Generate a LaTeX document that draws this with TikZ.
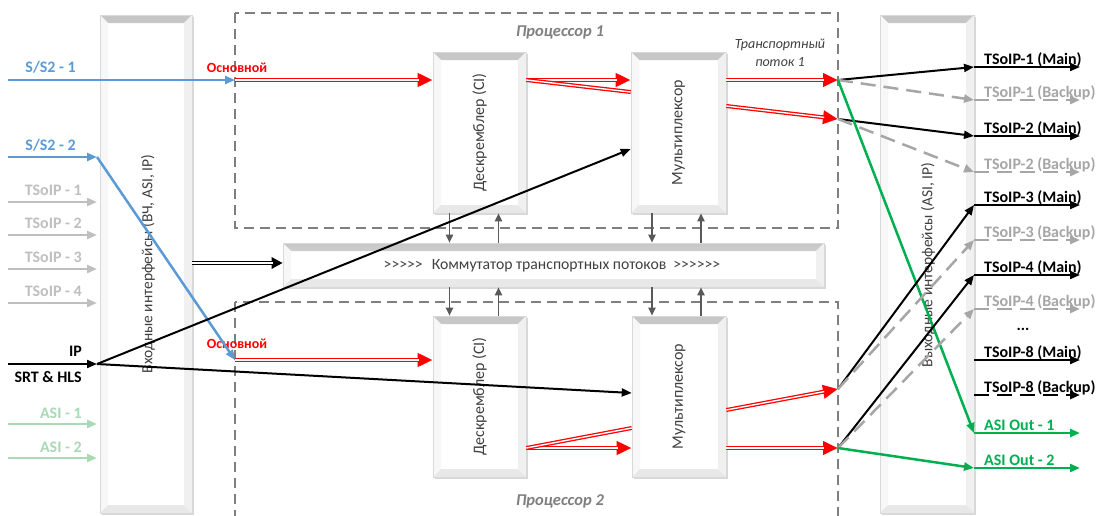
\documentclass[tikz,border=0pt]{standalone}
\usepackage{fontspec}
\setmainfont{Carlito}
\newfontfamily\nolig{Carlito}[Ligatures=TeXOff]
\usetikzlibrary{arrows.meta,shadows,calc}
\definecolor{cblue}{HTML}{5B9BD5}
\definecolor{cred}{HTML}{FF0000}
\definecolor{cgreen}{HTML}{00B050}
\definecolor{lgreen}{HTML}{A9D9B6}
\definecolor{lgray}{HTML}{BFBFBF}
\definecolor{mgray}{HTML}{A6A6A6}
\definecolor{dgray}{HTML}{595959}
\definecolor{dashc}{HTML}{7F7F7F}
\definecolor{txtc}{HTML}{404040}
\begin{document}
\begin{tikzpicture}[x=1pt,y=-1pt,
  bev/.style={fill=white, draw=gray!30, line width=0.6pt, inner sep=0pt,
    drop shadow={shadow xshift=1.5pt, shadow yshift=-1.5pt, opacity=0.3, fill=gray},
    path picture={
      \fill[top color=gray!45, bottom color=gray!8]
        (path picture bounding box.north west) -- (path picture bounding box.north east)
        -- ([xshift=-8pt,yshift=-8pt]path picture bounding box.north east)
        -- ([xshift=8pt,yshift=-8pt]path picture bounding box.north west) -- cycle;
      \fill[gray!6]
        (path picture bounding box.north west) -- ([xshift=8pt,yshift=-8pt]path picture bounding box.north west)
        -- ([xshift=8pt,yshift=8pt]path picture bounding box.south west) -- (path picture bounding box.south west) -- cycle;
      \fill[gray!12]
        (path picture bounding box.north east) -- ([xshift=-8pt,yshift=-8pt]path picture bounding box.north east)
        -- ([xshift=-8pt,yshift=8pt]path picture bounding box.south east) -- (path picture bounding box.south east) -- cycle;
      \fill[gray!18]
        (path picture bounding box.south west) -- ([xshift=8pt,yshift=8pt]path picture bounding box.south west)
        -- ([xshift=-8pt,yshift=8pt]path picture bounding box.south east) -- (path picture bounding box.south east) -- cycle;
    }},
  proc/.style={draw=dashc, line width=1.5pt, dash pattern=on 10pt off 6pt},
  tip/.style={-{Triangle[length=10pt,width=8pt]}},
  blu/.style={draw=cblue, line width=2.5pt, tip},
  gin/.style={draw=lgray, line width=2.5pt, tip},
  ain/.style={draw=lgreen, line width=2.5pt, tip},
  blk/.style={draw=black, line width=2pt, tip},
  grn/.style={draw=cgreen, line width=2.5pt, tip},
  bkp/.style={draw=mgray, line width=2.5pt, dash pattern=on 15pt off 8pt, tip},
  bkpb/.style={draw=black, line width=2.5pt, dash pattern=on 15pt off 8pt, tip},
  gar/.style={draw=dgray, line width=1.8pt, -{Triangle[length=8pt,width=7pt]}},
  redd/.style={draw=cred, line width=4pt, -{Triangle[length=15pt,width=13pt]},
    postaction={draw=white, line width=1.4pt, shorten >=14pt, arrows=-}},
  redn/.style={draw=cred, line width=4pt, postaction={draw=white, line width=1.4pt}},
  dbl/.style={draw=black, line width=4pt, -{Triangle[length=11pt,width=11pt]},
    postaction={draw=white, line width=1.4pt, shorten >=10pt, arrows=-}},
  lbl/.style={font=\fontsize{16}{18}\selectfont\bfseries, inner sep=0pt},
  olbl/.style={font=\fontsize{16}{18}\selectfont\bfseries, inner sep=0pt, anchor=base west},
  btxt/.style={font=\fontsize{16}{18}\selectfont, text=txtc, inner sep=0pt},
  ptxt/.style={font=\fontsize{15.5}{18}\selectfont, text=txtc, inner sep=0pt},
]
\useasboundingbox (0,0) rectangle (1101,515);
\clip (0,0) rectangle (1101,515);
\fill[white] (0,0) rectangle (1101,515);

% panels
\node[bev, minimum width=92pt, minimum height=498pt] (inp) at (146,264) {};
\node[bev, minimum width=94pt, minimum height=498pt] (outp) at (927,264) {};
\node[ptxt, rotate=90] (intxt) at (148,264) {Входные интерфейсы (ВЧ, ASI, IP)};
\node[ptxt, rotate=90] (outtxt) at (928,265) {Выходные интерфейсы (ASI, IP)};

% processors
\draw[proc] (235,13) rectangle (838,228);
\draw[proc] (235,302) rectangle (838,540);
\node[font=\fontsize{16.5}{19}\selectfont\bfseries\itshape, text=dashc, anchor=base] (p1lbl) at (560,36) {Процессор 1};
\node[font=\fontsize{16.5}{19}\selectfont\bfseries\itshape, text=dashc, anchor=base] (p2lbl) at (560,505) {Процессор 2};

% boxes
\node[bev, minimum width=93pt, minimum height=161pt] (desc1) at (479.5,132.5) {};
\node[bev, minimum width=95pt, minimum height=161pt] (mux1) at (678.5,132.5) {};
\node[bev, minimum width=93pt, minimum height=161pt] (desc2) at (479.5,396.5) {};
\node[bev, minimum width=94pt, minimum height=161pt] (mux2) at (679,396.5) {};
\node[bev, minimum width=541pt, minimum height=44pt] (comm) at (553.5,265) {};
\node[btxt, rotate=90] at (desc1) {Дескремблер (CI)};
\node[btxt, rotate=90] at (mux1) {Мультиплексор};
\node[btxt, rotate=90] at (desc2) {Дескремблер (CI)};
\node[btxt, rotate=90] at (mux2) {Мультиплексор};
\node[btxt, font=\fontsize{15.7}{18}\selectfont\nolig] at (552,266) {>>>>>\hspace{9pt}Коммутатор транспортных потоков\hspace{7pt}>>>>>>};

% vertical gray arrows
\draw[gar] ([xshift=-30pt]desc1.south) -- ([xshift=-30pt]desc1.south |- comm.north);
\draw[gar] ([xshift=19pt]desc1.south |- comm.north) -- ([xshift=19pt]desc1.south);
\draw[gar] ([xshift=-26.5pt]mux1.south) -- ([xshift=-26.5pt]mux1.south |- comm.north);
\draw[gar] ([xshift=22.5pt]mux1.south |- comm.north) -- ([xshift=22.5pt]mux1.south);
\draw[gar] ([xshift=-30pt]desc2.north |- comm.south) -- ([xshift=-30pt]desc2.north);
\draw[gar] ([xshift=19pt]desc2.north) -- ([xshift=19pt]desc2.north |- comm.south);
\draw[gar] ([xshift=-27pt]mux2.north |- comm.south) -- ([xshift=-27pt]mux2.north);
\draw[gar] ([xshift=22pt]mux2.north) -- ([xshift=22pt]mux2.north |- comm.south);

% coordinates
\coordinate (a1) at (235,80);
\coordinate (a2) at (235,360);
\coordinate (P1) at (838,80);
\coordinate (P2) at (838,119);
\coordinate (P3) at (838,389);
\coordinate (P4) at (838,448);

% red labels
\node[lbl, font=\fontsize{14}{16}\selectfont\bfseries, text=cred, anchor=base] (os1) at (237,72) {Основной};
\node[lbl, font=\fontsize{14}{16}\selectfont\bfseries, text=cred, anchor=base] (os2) at (237,348) {Основной};
\node[font=\fontsize{14}{16}\selectfont\itshape, text=txtc, anchor=base, inner sep=0pt] (tp1) at (780,48) {Транспортный};
\node[font=\fontsize{14}{16}\selectfont\itshape, text=txtc, anchor=base, inner sep=0pt] (tp2) at (780,66) {поток 1};

% red double streams
\draw[redd] (a1) -- (desc1.west |- a1);
\draw[redd] (desc1.east |- a1) -- (mux1.west |- a1);
\draw[redn] (desc1.east |- a1) -- (mux1.west |- 0,92);
\draw[redd] (mux1.east |- a1) -- (P1);
\draw[redd] (mux1.east |- 0,106) -- (P2);
\draw[redd] (a2) -- (desc2.west |- a2);
\draw[redd] (desc2.east |- P4) -- (mux2.west |- P4);
\draw[redn] (desc2.east |- P4) -- (mux2.west |- 0,428);
\draw[redd] (mux2.east |- 0,410) -- (P3);
\draw[redd] (mux2.east |- P4) -- (P4);

% inputs
\coordinate (s1) at (8,80);
\coordinate (s2) at (8,157);
\coordinate (j2) at (97,157);
\draw[blu] (s1) -- (a1);
\draw[blu] (s2) -- (j2);
\draw[blu] (j2) -- (a2);
\node[lbl, text=cblue, anchor=base east] (ls1) at (76,72) {S/S2 - 1};
\node[lbl, text=cblue, anchor=base east] (ls2) at (76,150) {S/S2 - 2};
\foreach \k/\y in {1/202,2/235,3/269,4/303}{
  \coordinate (t\k s) at (8,\y);
  \coordinate (t\k e) at (97,\y);
  \draw[gin] (t\k s) -- (t\k e);
  \node[lbl, text=lgray, anchor=base east] at (82,{\y-7}) {TSoIP - \k};
}
\foreach \k/\y in {1/424,2/458}{
  \coordinate (as\k s) at (8,\y);
  \coordinate (as\k e) at (97,\y);
  \draw[ain] (as\k s) -- (as\k e);
  \node[lbl, text=lgreen, anchor=base east] at (82,{\y-6}) {ASI - \k};
}
\coordinate (ips) at (8,364);
\coordinate (ipj) at (97,364);
\draw[blk] (ips) -- (ipj);
\node[lbl, anchor=base east] (lip) at (82,356) {IP};
\node[lbl, anchor=base east] (lsrt) at (82,382) {SRT \& HLS};
\draw[blk] (ipj) -- (mux1.west |- 0,149);
\draw[blk] (ipj) -- (mux2.west |- 0,393);
\draw[dbl] (inp.east |- 0,263) -- (comm.west |- 0,263);

% outputs
\foreach \nm/\y/\st/\tc/\tx in {
  o1m/67/blk/black/{TSoIP-1 (Main)},
  o1b/100/bkp/mgray/{TSoIP-1 (Backup)},
  o2m/136/blk/black/{TSoIP-2 (Main)},
  o2b/172/bkp/mgray/{TSoIP-2 (Backup)},
  o3m/205/blk/black/{TSoIP-3 (Main)},
  o3b/240/bkp/mgray/{TSoIP-3 (Backup)},
  o4m/275/blk/black/{TSoIP-4 (Main)},
  o4b/309/bkp/mgray/{TSoIP-4 (Backup)},
  o8m/360/blk/black/{TSoIP-8 (Main)},
  o8b/395/bkpb/black/{TSoIP-8 (Backup)},
  oa1/433/grn/cgreen/{ASI Out - 1},
  oa2/468/grn/cgreen/{ASI Out - 2}}{
  \coordinate (\nm) at (974,\y);
  \coordinate (\nm e) at (1080,\y);
  \draw[\st] (\nm) -- (\nm e);
  \node[olbl, text=\tc] at (984,{\y-3}) {\tx};
}
\node[olbl, anchor=base] (dots) at (1023,330) {...};

\draw[blk] (P1) -- (o1m);
\draw[bkp] (P1) -- (o1b);
\draw[blk] (P2) -- (o2m);
\draw[bkp] (P2) -- (o2b);
\draw[grn] (P1) -- (oa1);
\draw[blk] (P3) -- (o3m);
\draw[bkp] (P3) -- (o3b);
\draw[blk] (P4) -- (o4m);
\draw[bkp] (P4) -- (o4b);
\draw[grn] (P4) -- (oa2);
\end{tikzpicture}
\end{document}
